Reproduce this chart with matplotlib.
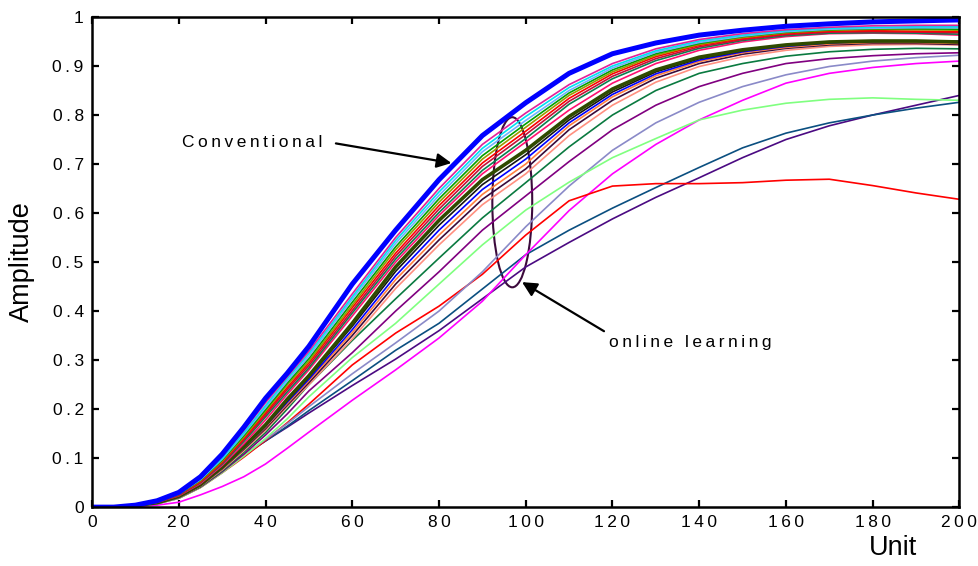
import matplotlib
matplotlib.use("Agg")
import matplotlib.pyplot as plt
from matplotlib.patches import Ellipse

plt.rcParams['font.family'] = ['Liberation Sans', 'DejaVu Sans']

# sample grid along the Unit axis (denser where the curves bend)
unit = [0, 5, 10, 15, 20, 25, 30, 35, 40, 45, 50, 60, 70, 80, 90, 100,
        110, 120, 130, 140, 150, 160, 170, 180, 190, 200]

# conventional curve (thick blue)
conventional = [0, 0, 0.004, 0.013, 0.03, 0.062, 0.108, 0.163, 0.222, 0.273, 0.328,
                0.455, 0.565, 0.668, 0.758, 0.825,
                0.885, 0.925, 0.947, 0.963, 0.973, 0.981, 0.986, 0.99, 0.992, 0.994]

# online learning curves, upper bundle
ol_pink = [0, 0, 0.004, 0.012, 0.029, 0.06, 0.104, 0.157, 0.213, 0.266, 0.318,
           0.435, 0.55, 0.65, 0.74, 0.804,
           0.862, 0.905, 0.935, 0.954, 0.966, 0.974, 0.979, 0.982, 0.983, 0.983]
ol_cyan = [0, 0, 0.004, 0.012, 0.028, 0.058, 0.1, 0.152, 0.207, 0.262, 0.313,
           0.429, 0.544, 0.643, 0.732, 0.797,
           0.856, 0.9, 0.931, 0.951, 0.963, 0.972, 0.977, 0.979, 0.98, 0.98]
ol_skyblue = [0, 0, 0.004, 0.011, 0.027, 0.056, 0.098, 0.149, 0.203, 0.257, 0.308,
              0.424, 0.538, 0.636, 0.725, 0.789,
              0.85, 0.896, 0.928, 0.948, 0.961, 0.97, 0.975, 0.977, 0.978, 0.978]
ol_green = [0, 0, 0.004, 0.011, 0.026, 0.055, 0.096, 0.146, 0.199, 0.253, 0.303,
            0.418, 0.531, 0.629, 0.717, 0.782,
            0.845, 0.892, 0.925, 0.946, 0.96, 0.969, 0.974, 0.976, 0.976, 0.975]
ol_olive = [0, 0, 0.003, 0.011, 0.026, 0.054, 0.094, 0.143, 0.196, 0.249, 0.298,
            0.412, 0.525, 0.622, 0.71, 0.775,
            0.84, 0.888, 0.922, 0.944, 0.958, 0.968, 0.973, 0.975, 0.974, 0.973]
ol_red1 = [0, 0, 0.003, 0.01, 0.025, 0.052, 0.092, 0.14, 0.192, 0.244, 0.294,
           0.407, 0.518, 0.615, 0.702, 0.767,
           0.834, 0.884, 0.919, 0.942, 0.956, 0.966, 0.971, 0.972, 0.971, 0.97]
ol_maroon = [0, 0, 0.003, 0.01, 0.024, 0.051, 0.09, 0.137, 0.188, 0.24, 0.289,
             0.401, 0.512, 0.608, 0.695, 0.76,
             0.828, 0.879, 0.915, 0.939, 0.954, 0.964, 0.969, 0.97, 0.969, 0.968]
ol_seagreen = [0, 0, 0.003, 0.01, 0.024, 0.05, 0.088, 0.134, 0.184, 0.235, 0.284,
               0.396, 0.506, 0.601, 0.687, 0.752,
               0.822, 0.874, 0.911, 0.936, 0.952, 0.962, 0.967, 0.968, 0.967, 0.965]
ol_crimson = [0, 0, 0.003, 0.01, 0.023, 0.048, 0.085, 0.129, 0.178, 0.23, 0.28,
              0.39, 0.5, 0.595, 0.68, 0.745,
              0.81, 0.865, 0.905, 0.932, 0.949, 0.96, 0.966, 0.967, 0.966, 0.963]

# middle bundle
ol_darkolive = [0, 0, 0.003, 0.009, 0.022, 0.046, 0.082, 0.123, 0.168, 0.22, 0.268,
                0.375, 0.49, 0.585, 0.668, 0.728,
                0.797, 0.853, 0.892, 0.918, 0.933, 0.943, 0.949, 0.951, 0.951, 0.949]
ol_black = [0, 0, 0.003, 0.009, 0.022, 0.046, 0.081, 0.122, 0.166, 0.217, 0.265,
            0.369, 0.481, 0.575, 0.658, 0.719,
            0.79, 0.847, 0.888, 0.915, 0.931, 0.942, 0.948, 0.95, 0.95, 0.948]
ol_blue = [0, 0, 0.003, 0.009, 0.022, 0.045, 0.08, 0.121, 0.165, 0.214, 0.261,
           0.362, 0.472, 0.565, 0.648, 0.71,
           0.784, 0.842, 0.884, 0.912, 0.929, 0.94, 0.947, 0.95, 0.951, 0.951]
ol_orange = [0, 0, 0.003, 0.009, 0.021, 0.044, 0.079, 0.12, 0.163, 0.211, 0.258,
             0.356, 0.464, 0.555, 0.638, 0.7,
             0.778, 0.837, 0.88, 0.909, 0.927, 0.938, 0.945, 0.948, 0.948, 0.946]
ol_plum = [0, 0, 0.003, 0.009, 0.021, 0.044, 0.078, 0.118, 0.16, 0.208, 0.254,
           0.35, 0.455, 0.545, 0.628, 0.69,
           0.77, 0.83, 0.875, 0.905, 0.924, 0.936, 0.943, 0.946, 0.946, 0.944]
ol_salmon = [0, 0, 0.003, 0.008, 0.02, 0.043, 0.076, 0.115, 0.157, 0.205, 0.25,
             0.343, 0.446, 0.535, 0.617, 0.68,
             0.758, 0.82, 0.867, 0.899, 0.919, 0.932, 0.94, 0.943, 0.944, 0.943]

# lower fan
ol_dkgreen = [0, 0, 0.003, 0.008, 0.02, 0.042, 0.074, 0.112, 0.152, 0.2, 0.25,
              0.34, 0.425, 0.508, 0.59, 0.662,
              0.735, 0.8, 0.85, 0.885, 0.905, 0.92, 0.929, 0.934, 0.936, 0.935]
ol_purple = [0, 0, 0.003, 0.008, 0.019, 0.041, 0.072, 0.108, 0.147, 0.19, 0.237,
             0.315, 0.4, 0.48, 0.565, 0.635,
             0.705, 0.77, 0.82, 0.858, 0.885, 0.905, 0.915, 0.921, 0.925, 0.927]
ol_lightgreen = [0, 0, 0.002, 0.007, 0.018, 0.04, 0.07, 0.104, 0.14, 0.18, 0.225,
                 0.305, 0.375, 0.455, 0.535, 0.606,
                 0.663, 0.713, 0.752, 0.79, 0.81, 0.824, 0.832, 0.835, 0.832, 0.83]
ol_lavender = [0, 0, 0.002, 0.007, 0.018, 0.041, 0.072, 0.105, 0.138, 0.17, 0.205,
               0.272, 0.335, 0.4, 0.48, 0.572,
               0.655, 0.728, 0.784, 0.826, 0.858, 0.882, 0.899, 0.91, 0.917, 0.922]
ol_red2 = [0, 0, 0.003, 0.007, 0.018, 0.04, 0.07, 0.102, 0.136, 0.172, 0.21,
           0.29, 0.355, 0.41, 0.475, 0.555,
           0.625, 0.655, 0.66, 0.66, 0.662, 0.667, 0.669, 0.656, 0.641, 0.628]
ol_magenta = [0, 0, 0.001, 0.004, 0.01, 0.025, 0.042, 0.062, 0.088, 0.12, 0.153,
              0.218, 0.28, 0.345, 0.42, 0.515,
              0.605, 0.68, 0.74, 0.79, 0.83, 0.865, 0.885, 0.897, 0.905, 0.91]
ol_teal = [0, 0, 0.002, 0.007, 0.019, 0.042, 0.075, 0.105, 0.135, 0.165, 0.197,
           0.258, 0.32, 0.375, 0.445, 0.515,
           0.565, 0.61, 0.652, 0.693, 0.733, 0.763, 0.784, 0.8, 0.814, 0.826]
ol_indigo = [0, 0, 0.002, 0.007, 0.019, 0.044, 0.078, 0.107, 0.135, 0.163, 0.192,
             0.248, 0.302, 0.36, 0.425, 0.49,
             0.54, 0.588, 0.632, 0.672, 0.713, 0.75, 0.778, 0.8, 0.82, 0.84]

online_curves = [ol_indigo, ol_teal, ol_magenta, ol_red2, ol_lavender, ol_lightgreen,
                 ol_purple, ol_dkgreen,
                 ol_salmon, ol_plum, ol_orange, ol_blue, ol_black, ol_darkolive,
                 ol_crimson, ol_seagreen, ol_maroon, ol_red1, ol_olive, ol_green,
                 ol_skyblue, ol_cyan, ol_pink]
online_colors = ['#4B0A82', '#0B4F80', '#FF00FF', '#FF0000', '#8A8AC8', '#80FF80',
                 '#800080', '#0A7A40',
                 '#FF9080', '#3A0A3A', '#FF8040', '#0000FF', '#151515', '#2F4A00',
                 '#FF1070', '#0A8050', '#C0103A', '#FF0000', '#9A9A00', '#00A000',
                 '#70B0FF', '#00E0F0', '#E0209A']
online_widths = [1.2] * 13 + [2.6] + [1.2] * 9

x_ticks = [0, 20, 40, 60, 80, 100, 120, 140, 160, 180, 200]
y_ticks = [0, 0.1, 0.2, 0.3, 0.4, 0.5, 0.6, 0.7, 0.8, 0.9, 1]
y_tick_labels = ['0', '0.1', '0.2', '0.3', '0.4', '0.5', '0.6', '0.7', '0.8', '0.9', '1']


def spaced(s):
    # the original uses letter-spaced labels
    return '\u2009'.join(s)


fig = plt.figure(figsize=(9.79, 5.66), dpi=100)
ax = fig.add_axes([0.094, 0.104, 0.886, 0.866])

for ys, c, lw in zip(online_curves, online_colors, online_widths):
    ax.plot(unit, ys, color=c, linewidth=lw)

ax.plot(unit, conventional, color='#0000FF', linewidth=3.6)

ax.set_xlim(0, 200)
ax.set_ylim(0, 1)
ax.set_xticks(x_ticks)
ax.set_xticklabels([spaced(str(t)) for t in x_ticks])
ax.set_yticks(y_ticks)
ax.set_yticklabels([spaced(t) for t in y_tick_labels])
ax.tick_params(direction='in', length=5, width=1.6, top=True, right=True,
               labelsize=12.5, colors='black', pad=6)
for sp in ax.spines.values():
    sp.set_linewidth(1.8)

# annotations
ax.add_patch(Ellipse((96.9, 0.622), width=9.2, height=0.347, fill=False,
                     edgecolor='#3C0A3C', linewidth=1.5))
ax.text(20.8, 0.743, spaced('Conventional'), fontsize=12.5, va='center', ha='left')
ax.annotate('', xy=(83.5, 0.701), xytext=(55.6, 0.743),
            arrowprops=dict(arrowstyle='-|>', color='black', lw=1.6, mutation_scale=22))
ax.text(119.2, 0.335, spaced('online learning'), fontsize=12.5, va='center', ha='left')
ax.annotate('', xy=(98.6, 0.462), xytext=(118.6, 0.356),
            arrowprops=dict(arrowstyle='-|>', color='black', lw=1.6, mutation_scale=22))

fig.text(22 / 979, 1 - 262 / 566, 'Amplitude', rotation=90, fontsize=19.5,
         ha='center', va='center')
fig.text(893 / 979, 1 - 548 / 566, 'Unit', fontsize=19.5, ha='center', va='center')

fig.savefig('out.png', dpi=100, facecolor='white')
